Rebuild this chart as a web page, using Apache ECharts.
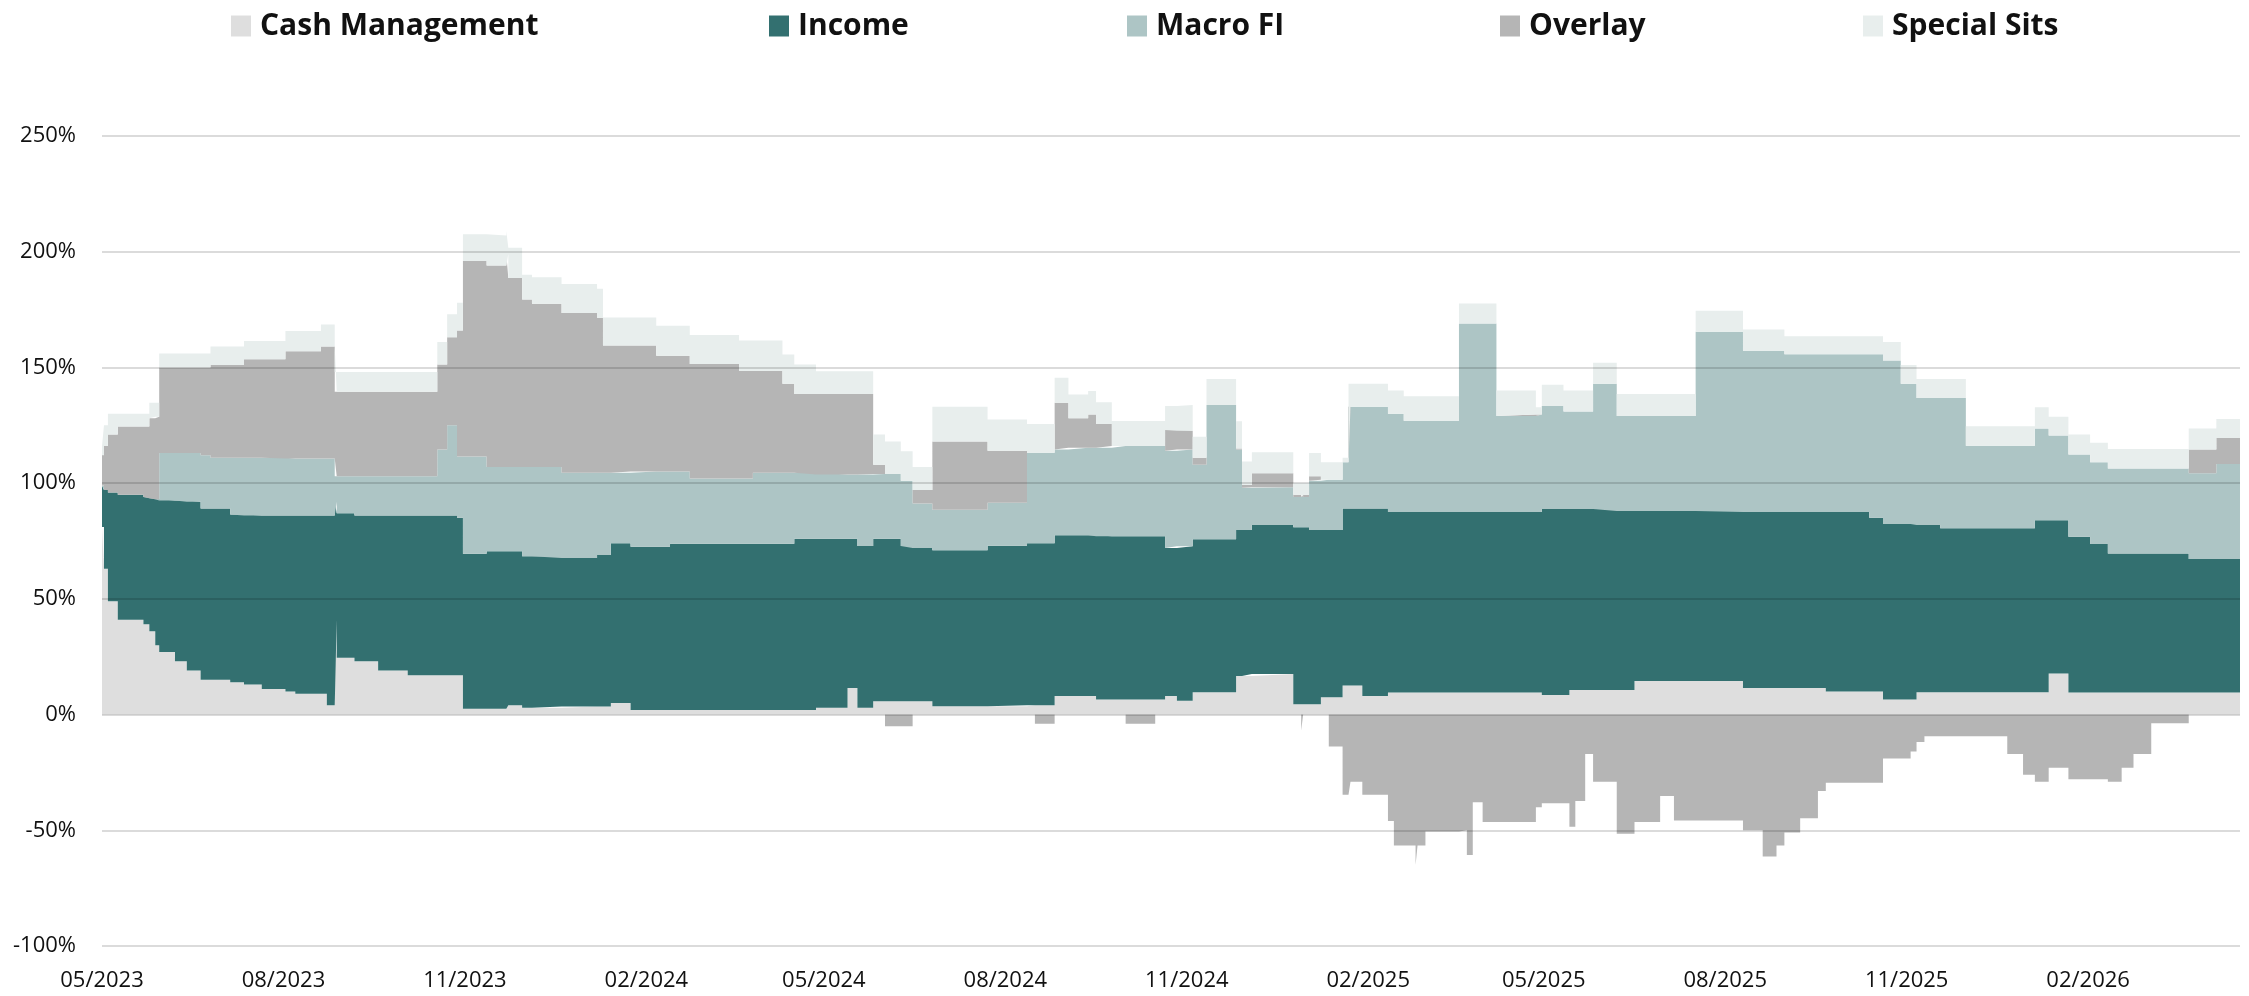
<!DOCTYPE html>
<html>
<head>
<meta charset="utf-8">
<script src="https://cdn.jsdelivr.net/npm/echarts@6/dist/echarts.min.js"></script>
<style>
html,body{margin:0;padding:0;background:#ffffff;}
#chart{width:2249px;height:996px;}
</style>
</head>
<body>
<div id="chart"></div>
<script>
// ---- data (percent of NAV, change points, step chart) ----
const dates = [
'2023-05-01','2023-05-02','2023-05-04','2023-05-09','2023-05-22','2023-05-25','2023-05-28','2023-05-30','2023-06-07','2023-06-13',
'2023-06-20','2023-06-25','2023-07-05','2023-07-12','2023-07-21','2023-08-02','2023-08-07','2023-08-20','2023-08-23','2023-08-27',
'2023-08-28','2023-09-06','2023-09-18','2023-10-03','2023-10-18','2023-10-23','2023-10-28','2023-10-31','2023-11-12','2023-11-22',
'2023-11-23','2023-11-30','2023-12-05','2023-12-20','2024-01-07','2024-01-10','2024-01-14','2024-01-24','2024-02-06','2024-02-13',
'2024-02-23','2024-03-19','2024-03-26','2024-04-10','2024-04-16','2024-04-27','2024-05-13','2024-05-18','2024-05-26','2024-06-01',
'2024-06-09','2024-06-15','2024-06-25','2024-07-23','2024-08-12','2024-08-16','2024-08-26','2024-09-02','2024-09-12','2024-09-16',
'2024-09-24','2024-10-01','2024-10-16','2024-10-21','2024-10-27','2024-11-04','2024-11-11','2024-11-26','2024-11-29','2024-12-04',
'2024-12-25','2024-12-29','2024-12-30','2025-01-02','2025-01-08','2025-01-12','2025-01-19','2025-01-22','2025-01-23','2025-01-29',
'2025-02-11','2025-02-14','2025-02-19','2025-02-25','2025-02-26','2025-03-02','2025-03-19','2025-03-23','2025-03-26','2025-03-31',
'2025-04-07','2025-04-27','2025-04-30','2025-05-11','2025-05-14','2025-05-17','2025-05-22','2025-05-26','2025-06-07','2025-06-16',
'2025-06-29','2025-07-06','2025-07-17','2025-08-10','2025-08-20','2025-08-27','2025-08-31','2025-09-08','2025-09-17','2025-09-21',
'2025-10-13','2025-10-20','2025-10-29','2025-11-03','2025-11-06','2025-11-10','2025-11-18','2025-12-01','2025-12-22','2025-12-30',
'2026-01-05','2026-01-12','2026-01-22','2026-02-02','2026-02-11','2026-02-18','2026-02-24','2026-03-05','2026-03-24','2026-04-07',
'2026-04-19'
];
const cashManagement = [
81,63,49,41,39,36,30,27,23,19,
15,15,14,13,11,10,9,9,4,41,
24.5,23,19,17,17,17,17,2.5,2.5,4,
4,3,3,3.5,3.5,3.5,5,2,2,2,
2,2,2,2,2,3,11.5,3,5.8,5.8,
5.8,5.8,3.6,3.6,4,4,8,8,8,6.5,
6.5,6.5,6.5,8,6,9.6,9.6,16.7,16.7,17.5,
4.5,4.5,4.5,4.5,7.5,7.5,12.6,12.6,12.6,8,
9.5,9.5,9.5,9.5,9.5,9.5,9.5,9.5,9.5,9.5,
9.5,9.5,8.5,8.5,10.6,10.6,10.6,10.6,10.6,14.5,
14.5,14.5,14.5,11.5,11.5,11.5,11.5,11.5,11.5,10,
10,6.5,6.5,6.5,9.6,9.6,9.6,9.6,9.6,9.6,
9.6,17.7,9.5,9.5,9.5,9.5,9.5,9.5,9.5,9.5,
9.5
];
const income = [
18,34,47,54,55,57.5,63,65.5,69.5,73,
74,74,72.5,73,75,76,77,77,82,51,
62.5,63,67,69,69,69,68,67,68.1,66.6,
66.6,65.4,65.4,64.2,65.5,65.5,69,70.5,70.5,71.8,
71.8,71.8,71.8,71.8,74,73,64.5,69.8,70.2,70.2,
67,66.2,67.4,69.4,70,70,69.5,69.5,69.5,70.5,
70.5,70.5,70.5,64,66.7,66.2,66.2,63.1,63.1,64.4,
76.4,76.4,76.4,75.3,72.3,72.3,76.4,76.4,76.4,81,
78,78,78,78,78,78,78,78,78,78,
78,78,80.3,80.3,78.2,78.2,78.2,78.2,77.4,73.5,
73.5,73.5,73.5,76,76,76,76,76,76,77.5,
75,75.8,75.8,75.8,72.3,72.3,70.9,70.9,70.9,70.9,
74.4,66.3,67.3,64.2,60.1,60.1,60.1,60.1,57.7,57.7,
57.7
];
const macroFI = [
0,0,0,0,0,0,0,20.5,20.5,21,
23,22,24.5,25,25,24.7,24.7,24.7,24.7,11,
16,17,17,17,28.5,39,26.5,42,36.4,36.4,
36.4,38.6,38.6,36.8,35.5,35.5,30.5,32.5,32.5,31.2,
28.2,28.2,30.7,30.7,28.5,27.7,27.7,30.9,28,28,
28.2,19.2,17.5,18.5,39.1,39.1,37,37.8,37.8,38.3,
39,39,39,42,41.8,32.2,58,34.7,18.2,16.3,
13.1,13.1,13.1,21.2,21.7,21.7,20,44,44,44,
42.5,42.5,39.5,39.5,39.5,39.5,81.5,81.5,81.5,81.5,
41.5,42.2,44.5,42.2,42.2,42.2,42.2,54.2,41,41,
41,41,77.4,69.7,69.7,69.7,68.2,68.2,68.2,68.2,
70.7,70.7,60.7,60.7,54.9,54.9,56.3,35.7,35.7,35.7,
39.6,36.6,35.6,35.3,36.7,36.7,36.7,36.7,37.1,41.1,
41.1
];
const overlay = [
13,19,25,29.5,30.5,34.5,35.7,37,37,37,
38,40,40,42.5,42.5,46.3,46.3,48.3,48.3,36.5,
36.5,36.5,36.5,36.5,36.8,38,54.5,84.5,87,92,
81.6,72.4,70.5,69,67,55,55,54.5,50,50,
49.5,46.5,44,38.5,34,34.8,34.8,34.8,4,-5,
-5,5.8,29.5,22.5,0,-4,20.2,12.7,14.4,10.3,
0,-4,0,9,8.1,3,0,0.5,1.2,6.1,
1,-7,1,2,0,-13.8,-34.6,-34.6,-29,-34.6,
-46,-56.6,-56.6,-65,-56.6,-50.5,-50,-60.7,-37.9,-46.4,
-46.4,-40,-38.3,-38.3,-48.5,-37.3,-17,-29,-51.5,-46.4,
-35.2,-45.8,-45.8,-50,-61.3,-56.6,-51,-44.8,-33,-29.5,
-29.5,-19,-19,-16,-11.8,-9.4,-9.4,-9.4,-17,-26,
-29,-23,-28,-28,-29,-23,-17,-3.7,10.2,11.2,
11.2
];
const specialSits = [
4,9,9,5.5,5.5,6.7,6,6,6,6,
6,8,8,7.9,7.9,8.7,8.7,9.6,9.6,8.5,
8.5,8.5,8.5,8.5,9.7,10,12,11.5,13,10,
13.1,10.6,11.5,12.5,12.5,12.1,12.1,12.1,13,13,
12.5,13.1,13.1,12.6,12.8,9.9,9.9,9.9,13,14,
12.8,10,15,13.5,12.5,12.5,10.8,10.3,10.1,9.3,
10.8,10.8,10.8,10.3,11.2,9,11.2,11.7,10.2,9.1,
5,6,5,10,7.5,7.5,2,10,10,10,
10,10,10.5,10.5,10.5,10.5,8.6,8.6,8.6,8.6,
11,3.1,9.2,9,9,9,9,9,9.5,9.5,
9.5,9.5,9.1,9.2,9.2,9.2,7.8,7.8,7.8,7.8,
7.8,8,8,8,8.2,8.2,8.2,8.4,8.4,8.4,
9.2,8.1,8.6,8.5,8.5,8.5,8.5,8.5,9.1,8.2,
8.2
];
const tickDates = ['2023-05-01','2023-08-01','2023-11-01','2024-02-01','2024-05-01','2024-08-01',
  '2024-11-01','2025-02-01','2025-05-01','2025-08-01','2025-11-01','2026-02-01'];
const yTicks = {min: -100, max: 250, interval: 50};
const seriesNames = ['Cash Management','Income','Macro FI','Overlay','Special Sits'];

// ---- styling ----
const colors = ['#dedede','#337070','#adc5c5','#b5b5b5','#e8eeed'];
const legendLeft = [231, 769, 1127, 1500, 1863];
const FONT = "'Open Sans', 'Noto Sans', sans-serif";

function ts(s){ const p = s.split('-').map(Number); return Date.UTC(p[0], p[1]-1, p[2]); }
const xMin = ts(dates[0]), xMax = ts(dates[dates.length-1]);
// overlay: long part stacks on top of Macro FI, short part hangs below zero
const overlayLong = overlay.map(v => Math.max(v, 0));
const overlayShort = overlay.map(v => Math.min(v, 0));
const stackedValues = [cashManagement, income, macroFI, overlayLong, specialSits];

function areaSeries(name, vals, color, stack){
  return {
    name: name, type: 'line', xAxisIndex: 0, stack: stack, step: 'end',
    symbol: 'none', showSymbol: false, silent: true,
    lineStyle: {width: 0, color: color},
    itemStyle: {color: color},
    areaStyle: {color: color, opacity: 1},
    emphasis: {disabled: true},
    data: dates.map((d, j) => [ts(d), vals[j]])
  };
}

const chart = echarts.init(document.getElementById('chart'), null, {renderer:'canvas'});
const series = seriesNames.map((n, i) => areaSeries(n, stackedValues[i], colors[i], 'total'));
series.push(areaSeries('Overlay', overlayShort, colors[3], null));

const option = {
  animation: false,
  backgroundColor: '#ffffff',
  textStyle: {fontFamily: FONT},
  grid: {left: 102, right: 9, top: 136, bottom: 50, containLabel: false},
  legend: seriesNames.map((n, i) => ({
    data: [n], left: legendLeft[i], top: 11, padding: 0,
    icon: 'rect', itemWidth: 20, itemHeight: 21, itemGap: 0,
    selectedMode: false,
    textStyle: {fontFamily: FONT, fontSize: 30, fontWeight: 'bold', color: '#111', padding: [0,0,0,4]}
  })),
  xAxis: [{
    type: 'time', position: 'bottom',
    min: xMin, max: xMax,
    axisLine: {show: false}, axisTick: {show: false}, splitLine: {show: false},
    axisLabel: {show: false}
  }, {
    type: 'value', position: 'bottom',
    min: xMin, max: xMax,
    axisLine: {show: false}, axisTick: {show: false}, splitLine: {show: false},
    axisLabel: {
      customValues: tickDates.map(ts),
      formatter: function(v){ const d = new Date(v); const m = d.getUTCMonth()+1; return (m<10?'0':'')+m+'/'+d.getUTCFullYear(); },
      fontFamily: FONT, fontSize: 22, color: '#111', margin: 24
    }
  }],
  yAxis: {
    type: 'value', min: yTicks.min, max: yTicks.max, interval: yTicks.interval, z: 5,
    axisLine: {show: false}, axisTick: {show: false},
    splitLine: {show: true, lineStyle: {color: 'rgba(0,0,0,0.14)', width: 2}},
    axisLabel: {formatter: '{value}%', fontFamily: FONT, fontSize: 22, color: '#111', margin: 26}
  },
  series: series
};
chart.setOption(option);
</script>
</body>
</html>
